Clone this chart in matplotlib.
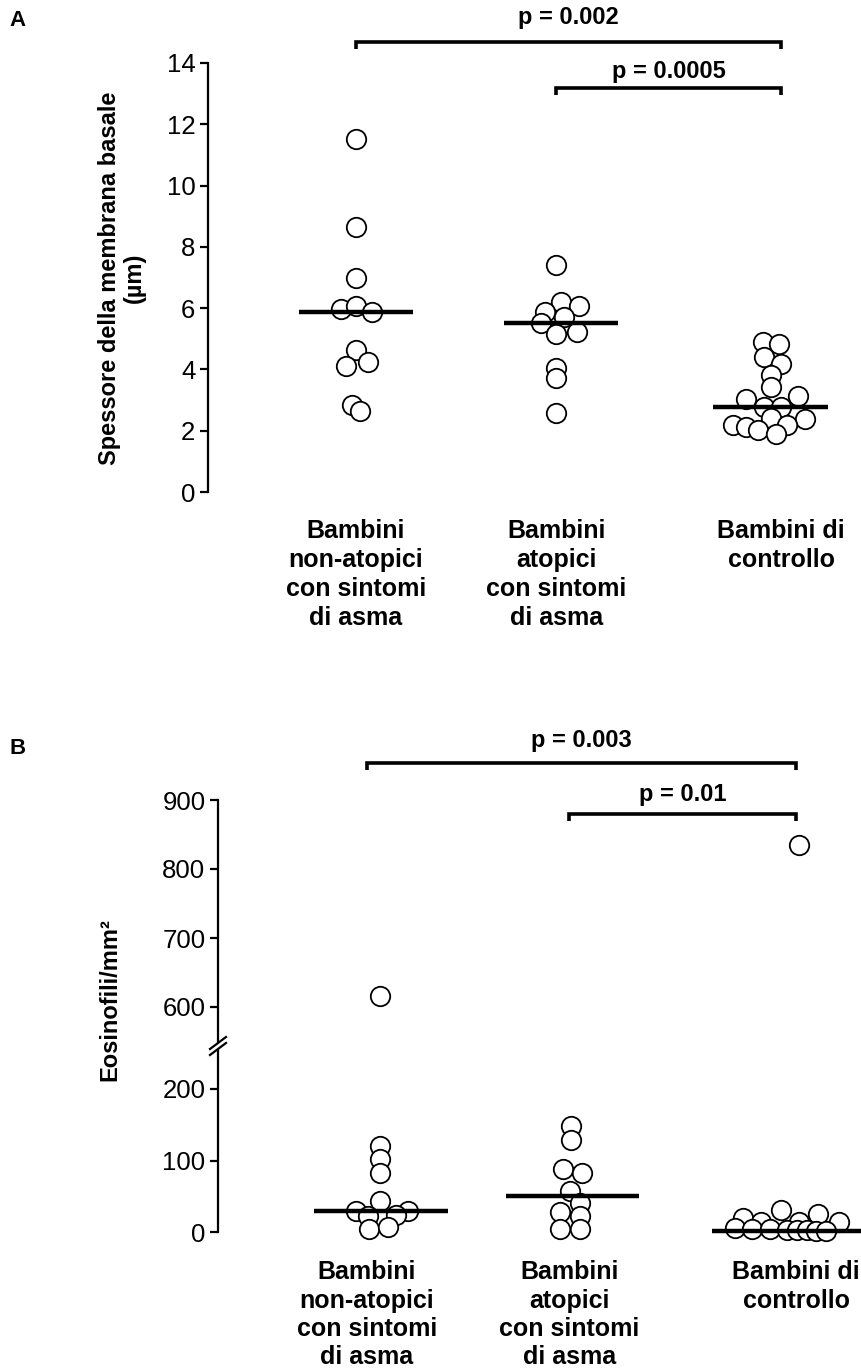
import numpy as np
import matplotlib
matplotlib.use("Agg")
import matplotlib.pyplot as plt

plt.rcParams['font.family'] = ['Liberation Sans', 'DejaVu Sans']

# ---------------- data ----------------
groups = ["Bambini\nnon-atopici\ncon sintomi\ndi asma",
          "Bambini\natopici\ncon sintomi\ndi asma",
          "Bambini di\ncontrollo"]
group_pos = [1.0, 2.0, 3.12]

# Panel A: basement membrane thickness (µm)
a_g1 = [11.52, 8.65, 6.99, 5.96, 6.08, 5.87, 4.65, 4.12, 4.25, 2.85, 2.65]
a_g2 = [7.42, 6.20, 6.07, 5.86, 5.70, 5.52, 5.14, 5.21, 4.06, 3.71, 2.57]
a_g3 = [4.90, 4.83, 4.41, 4.18, 3.81, 3.42, 3.02, 3.13, 2.78, 2.78, 2.41,
        2.19, 2.37, 2.11, 2.02, 2.19, 1.89]
a_medians = [5.87, 5.52, 2.76]
a_ticks = [0, 2, 4, 6, 8, 10, 12, 14]

# horizontal jitter of the dots (category units)
a_j1 = [0, 0, 0, -0.073, 0, 0.079, 0, -0.05, 0.058, -0.021, 0.021]
a_j2 = [0, 0.021, 0.113, -0.058, 0.038, -0.079, 0, 0.104, 0, 0, 0]
a_j3 = [-0.09, -0.01, -0.083, 0.0, -0.052, -0.052, -0.173, 0.083, -0.083, 0.0,
        -0.052, -0.24, 0.121, -0.173, -0.115, 0.031, -0.025]

# Panel B: eosinophils / mm²
b_g1 = [616, 120, 102, 82.6, 42.7, 29.6, 29.6, 22.5, 24, 3.8, 7.5]
b_g2 = [148.5, 128.5, 87.7, 82, 58, 40, 27.4, 21.8, 4.6, 4.6]
b_g3 = [835, 31, 25, 14.5, 19, 14.5, 14.5, 5, 4, 4, 3, 3, 3, 2, 2]
b_medians = [29.6, 51, 1.5]
b_ticks = [0, 100, 200, 600, 700, 800, 900]

b_j1 = [0.064, 0.064, 0.064, 0.064, 0.064, -0.054, 0.204, 0.006, 0.144,
        0.01, 0.105]
b_j2 = [0.01, 0.01, -0.033, 0.064, 0.004, 0.053, -0.044, 0.053, -0.048,
        0.053]
b_j3 = [0.015, -0.074, 0.11, 0.21, -0.264, -0.173, 0.016,
        -0.30, -0.22, -0.13, -0.046, 0.003, 0.053, 0.10, 0.148]

# p-value comparisons (group index pairs)
a_comp = [(0, 2, "p = 0.002"), (1, 2, "p = 0.0005")]
b_comp = [(0, 2, "p = 0.003"), (1, 2, "p = 0.01")]

# ---------------- figure ----------------
W, H = 862, 1371
fig = plt.figure(figsize=(W / 100, H / 100), dpi=100)


def px_axes(left, top, right, bottom):
    return fig.add_axes([left / W, 1 - bottom / H, (right - left) / W,
                         (bottom - top) / H])


marker_kw = dict(marker='o', ms=14, mfc='white', mec='black', mew=1.3,
                 ls='none', clip_on=False, zorder=3)
label_font = dict(fontsize=18, fontweight='bold')


def style_axis(ax, pad, ls):
    for s in ['top', 'right', 'bottom']:
        ax.spines[s].set_visible(False)
    ax.spines['left'].set_linewidth(1.6)
    ax.tick_params(axis='y', direction='out', length=6, width=1.6,
                   labelsize=18.5, pad=3)
    ax.tick_params(axis='x', length=0, pad=pad)
    ax.set_xticks(group_pos)
    ax.set_xticklabels(groups, **label_font, linespacing=ls)


def brackets(ax, comps, levels, text_levels):
    tr = ax.get_xaxis_transform()
    for (i, j, txt), (ytop, ybot), yt in zip(comps, levels, text_levels):
        x1, x2 = group_pos[i], group_pos[j]
        ax.plot([x1, x1, x2, x2], [ybot, ytop, ytop, ybot], color='black',
                lw=2.6, transform=tr, clip_on=False, solid_joinstyle='miter',
                solid_capstyle='butt')
        ax.text((x1 + x2) / 2, yt, txt, transform=tr, ha='center',
                va='center', fontsize=17, fontweight='bold')


def medians(ax, meds, shifts, halves):
    for pos, m, sh, hw in zip(group_pos, meds, shifts, halves):
        ax.plot([pos + sh - hw, pos + sh + hw], [m, m], color='black',
                lw=3.2, solid_capstyle='butt', zorder=4, clip_on=False)


# ---------- Panel A ----------
axA = px_axes(208, 63, 862, 492)
axA.set_xlim(0.2618, 3.524)
axA.set_ylim(0, 14)
style_axis(axA, pad=19.5, ls=1.27)
axA.set_yticks(a_ticks)

for pos, vals, jit in zip(group_pos, [a_g1, a_g2, a_g3], [a_j1, a_j2, a_j3]):
    axA.plot(pos + np.array(jit), vals, **marker_kw)
medians(axA, a_medians, [0.0, 0.024, -0.052], [0.285, 0.285, 0.285])

brackets(axA, a_comp, [(1.049, 1.032), (0.942, 0.925)], [1.105, 0.981])

fig.text(122 / W, 1 - 278 / H, "Spessore della membrana basale\n(µm)",
         rotation=90, ha='center', va='center', fontsize=17,
         fontweight='bold', multialignment='center', linespacing=1.1)
fig.text(18 / W, 1 - 21 / H, "A", ha='center', va='center', fontsize=16,
         fontweight='bold')

# ---------- Panel B (broken axis) ----------
seg_v = [-1000, 0, 200, 600, 900, 3000]
seg_p = [-715, 0, 143, 225, 432, 1881]


def fwd(v):
    return np.interp(v, seg_v, seg_p)


def inv(p):
    return np.interp(p, seg_p, seg_v)


axB = px_axes(218, 800, 862, 1232)
axB.set_yscale('function', functions=(fwd, inv))
axB.set_xlim(0.2638, 3.4457)
axB.set_ylim(0, 900)
style_axis(axB, pad=20.5, ls=1.22)
axB.set_yticks(b_ticks)
axB.set_yticklabels([str(t) for t in b_ticks])
axB.yaxis.set_minor_locator(matplotlib.ticker.NullLocator())

for pos, vals, jit in zip(group_pos, [b_g1, b_g2, b_g3], [b_j1, b_j2, b_j3]):
    axB.plot(pos + np.array(jit), vals, **marker_kw)
medians(axB, b_medians, [0.069, 0.015, -0.044], [0.33, 0.33, 0.371])

brackets(axB, b_comp, [(1.086, 1.069), (0.968, 0.951)], [1.137, 1.012])

# axis break marks "//"
yb = float(fwd(400) / fwd(900))
axW, axH = 644.0, 432.0
tr = axB.transAxes
sx, sy = 1 / axW, 1 / axH
gap = [(-8, -7), (8, 5), (8, 10), (-8, -2)]
axB.fill([p[0] * sx for p in gap], [yb + p[1] * sy for p in gap],
         color='white', transform=tr, clip_on=False, zorder=5)
for dy in (-6, 0):
    axB.plot([-8 * sx, 8 * sx], [yb + (dy - 1) * sy, yb + (dy + 11) * sy],
             color='black', lw=1.6, transform=tr, clip_on=False, zorder=6)

fig.text(110 / W, 1 - 1000 / H, "Eosinofili/mm²", rotation=90, ha='center',
         va='center', fontsize=17, fontweight='bold')
fig.text(18 / W, 1 - 748 / H, "B", ha='center', va='center', fontsize=16,
         fontweight='bold')

fig.savefig("out.png", dpi=100, facecolor='white')
